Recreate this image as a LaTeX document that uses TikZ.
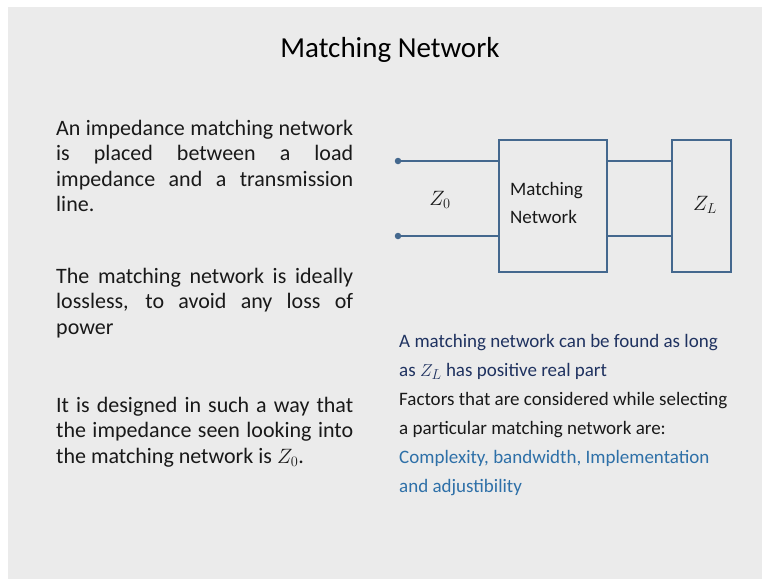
\documentclass[tikz,border=0pt]{standalone}
\usepackage{fontspec}
\setmainfont{Carlito}
\definecolor{slidebg}{RGB}{235,235,235}
\definecolor{wire}{RGB}{68,104,142}
\definecolor{navy}{RGB}{31,50,96}
\definecolor{bodytext}{RGB}{25,25,25}
\definecolor{accent}{RGB}{46,112,168}
% keep the font's own interword spacing in ragged text
\newcommand{\plainspaces}{\spaceskip=0pt\xspaceskip=0pt\relax}

\begin{document}
\begin{tikzpicture}[x=1pt,y=-1pt,
  para/.style={anchor=base west, inner sep=0pt, text width=297pt, align=justify,
    font=\fontsize{22}{25.5}\selectfont, text=bodytext},
  note/.style={anchor=base west, inner sep=0pt, text width=345pt, align=left,
    font=\fontsize{19}{29}\selectfont},
  block/.style={draw=wire, line width=2.2pt, inner sep=0pt, minimum height=132pt},
  lead/.style={draw=wire, line width=2.2pt},
  term/.style={circle, fill=wire, inner sep=0pt, minimum size=6.5pt}]

% slide frame
\useasboundingbox (0,0) rectangle (762,579);
\fill[white] (0,0) rectangle (762,579);
\fill[slidebg] (8,7) rectangle (762,579);

% heading
\node[anchor=base, inner sep=0pt, font=\fontsize{29}{34}\selectfont, text=black]
  (title) at (390,57) {Matching Network};

% left column
\node[para] (p1) at (56,135) {An impedance matching network\linebreak
  is placed between a load\linebreak
  impedance and a transmission\linebreak
  line.};
\node[para] (p2) at (56,283) {The matching network is ideally\linebreak
  lossless, to avoid any loss of\linebreak
  power};
\node[para] (p3) at (56,412) {It is designed in such a way that\linebreak
  the impedance seen looking into\linebreak
  the matching network is $Z_0$.};

% circuit
\node[block, minimum width=108pt] (mn) at (553,206) {};
\node[block, minimum width=59pt] (zl) at (701.5,206) {};
\node[term] (t1) at (398,161) {};
\node[term] (t2) at (398,236) {};

\draw[lead] (t1.center) -- (t1 -| mn.west);
\draw[lead] (t2.center) -- (t2 -| mn.west);
\draw[lead] (mn.east |- t1) -- (zl.west |- t1);
\draw[lead] (mn.east |- t2) -- (zl.west |- t2);

\node[anchor=base, inner sep=0pt, font=\fontsize{20}{24}\selectfont, text=bodytext]
  (z0) at (440,205) {$Z_0$};
\node[anchor=base west, inner sep=0pt, text width=85pt, align=left,
  font=\fontsize{19}{28}\selectfont, text=bodytext]
  (mnlabel) at (510,195) {Matching\\Network};
\node[anchor=base, inner sep=0pt, font=\fontsize{20}{24}\selectfont, text=bodytext]
  (zlabel) at (705,210) {$Z_L$};

% notes under the circuit
\node[note] (notes) at (399,347) {\plainspaces
  \color{navy}A matching network can be found as long\\
  as $Z_L$ has positive real part\\
  \color{bodytext}Factors that are considered while selecting\\
  a particular matching network are:\\
  \color{accent}Complexity, bandwidth, Implementation\\
  and adjustibility};
\end{tikzpicture}
\end{document}
